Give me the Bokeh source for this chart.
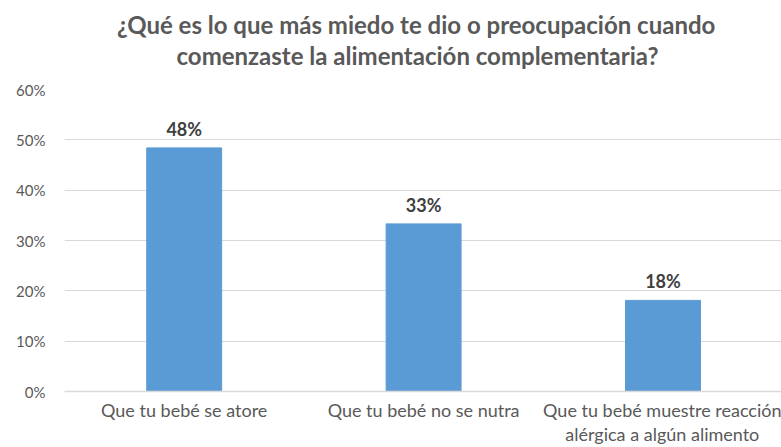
from bokeh.plotting import figure
from bokeh.layouts import column
from bokeh.models import ColumnDataSource, Range1d, FixedTicker, NumeralTickFormatter
from bokeh.core.properties import value
from bokeh.embed import file_html
from bokeh.resources import INLINE

categories = ["Que tu bebé se atore", "Que tu bebé no se nutra",
              "Que tu bebé muestre reacción\nalérgica a algún alimento"]
values = [0.484, 0.333, 0.181]
value_labels = ["48%", "33%", "18%"]
y_ticks = [0.0, 0.1, 0.2, 0.3, 0.4, 0.5, 0.6]
title_lines = ["¿Qué es lo que más miedo te dio o preocupación cuando",
               "comenzaste la alimentación complementaria?"]

FONT = "Lato"

# ---- title strip ----
TH = 79
pt = figure(width=781, height=TH, output_backend="svg", toolbar_location=None,
            x_range=Range1d(0, 781), y_range=Range1d(0, TH),
            x_axis_type=None, y_axis_type=None,
            min_border_left=0, min_border_right=0, min_border_top=0, min_border_bottom=0)
pt.outline_line_color = None
pt.grid.visible = False
tsrc = ColumnDataSource(dict(x=[383, 384.5], y=[TH - 24, TH - 55], t=title_lines))
pt.text(x="x", y="y", text="t", source=tsrc, text_align="center", text_baseline="middle",
        text_font=value(FONT), text_font_size="24px", text_font_style="bold",
        text_color="#595959")

# ---- chart ----
xs = [i + 0.5 for i in range(len(categories))]
src = ColumnDataSource(dict(x=xs, top=values, lab=value_labels))

p = figure(width=781, height=447 - TH, output_backend="svg", toolbar_location=None,
           x_range=Range1d(0, 2.995), y_range=Range1d(0, 0.6),
           min_border_left=64, min_border_right=0, min_border_top=10, min_border_bottom=55)

p.vbar(x="x", top="top", width=0.313, bottom=0, source=src, color="#5B9BD5")
p.text(x="x", y="top", text="lab", source=src, text_align="center", text_baseline="bottom",
       y_offset=-8, text_font=value(FONT), text_font_style="bold", text_font_size="18px",
       text_color="#404040")

p.outline_line_color = None
p.xgrid.grid_line_color = None
p.ygrid.grid_line_color = "#D9D9D9"
p.ygrid.ticker = FixedTicker(ticks=y_ticks)

p.yaxis.ticker = FixedTicker(ticks=y_ticks)
p.yaxis.formatter = NumeralTickFormatter(format="0%")
p.yaxis.axis_line_color = None
p.yaxis.major_tick_line_color = None
p.yaxis.minor_tick_line_color = None
p.yaxis.major_tick_out = 0
p.yaxis.major_label_text_font = FONT
p.yaxis.major_label_text_font_size = "15px"
p.yaxis.major_label_text_color = "#595959"
p.yaxis.major_label_standoff = 19

p.xaxis.ticker = FixedTicker(ticks=xs)
p.xaxis.major_label_overrides = {x: c for x, c in zip(xs, categories)}
p.xaxis.axis_line_color = "#D9D9D9"
p.xaxis.axis_line_width = 1.5
p.xaxis.major_tick_line_color = None
p.xaxis.minor_tick_line_color = None
p.xaxis.major_tick_out = 0
p.xaxis.major_label_text_font = FONT
p.xaxis.major_label_text_font_size = "18px"
p.xaxis.major_label_text_color = "#595959"
p.xaxis.major_label_text_line_height = 1.1
p.xaxis.major_label_standoff = 7

layout = column(pt, p, spacing=0)
open("out.html", "w").write(file_html(layout, INLINE))
